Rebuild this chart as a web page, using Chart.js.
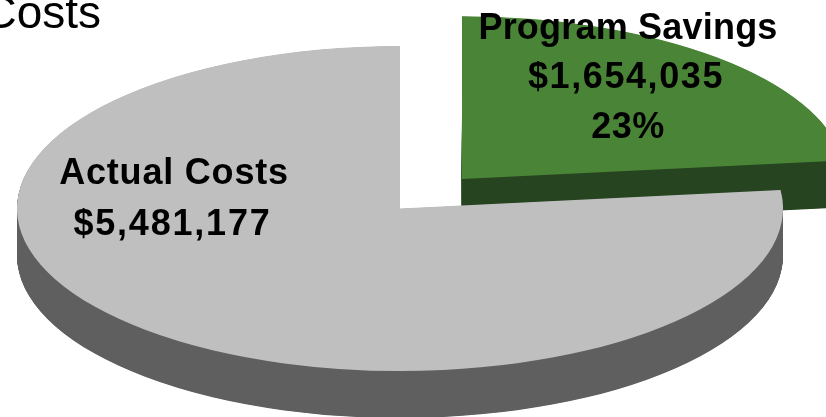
<!DOCTYPE html>
<html><head><meta charset="utf-8">
<style>html,body{margin:0;padding:0;background:#fff;overflow:hidden}#w{position:relative;width:826px;height:417px}</style>
<script src="https://cdn.jsdelivr.net/npm/chart.js@4"></script>
</head><body><div id="w"><canvas id="c" width="826" height="417"></canvas></div>
<script>
const categories = ['Program Savings', 'Actual Costs'];
const values = [1654035, 5481177];
const topColors = ['#4a8537', '#bfbfbf'];
const sideColors = ['#264420', '#5f5f5f'];
const labelLines = [
  {text:'Program Savings', x:628, y:39, ls:'0.2px'},
  {text:'$1,654,035', x:626, y:88, ls:'1.6px'},
  {text:'23%', x:628, y:138, ls:'0.5px'},
  {text:'Actual Costs', x:174, y:184, ls:'0.8px'},
  {text:'$5,481,177', x:172.5, y:235, ls:'1.8px'}
];
const pieCx = 400, pieCy = 208.5, radiusY = 162.5, radiusX = 383, depth = 47;
const scaleX = radiusX / radiusY;

function place(ctx, arc){
  ctx.translate(pieCx, pieCy); ctx.scale(scaleX, 1); ctx.translate(-arc.x, -arc.y);
}

const pie3d = {
  id:'pie3d',
  beforeDatasetDraw(chart){
    const ctx = chart.ctx, arcs = chart.getDatasetMeta(0).data;
    // Each side wall is stacked on its own layer, then flattened to one solid colour.
    arcs.forEach((arc,i)=>{
      const layer = document.createElement('canvas');
      layer.width = chart.width; layer.height = chart.height;
      const l = layer.getContext('2d');
      l.save();
      place(l, arc);
      const o = arc.options;
      arc.options = Object.create(o, {backgroundColor:{value:sideColors[i]}});
      for(let d=depth;d>=0.5;d-=0.5){
        l.save(); l.translate(0,d); arc.draw(l); l.restore();
      }
      arc.options = o;
      l.restore();
      l.globalCompositeOperation = 'source-atop';
      l.fillStyle = sideColors[i];
      l.fillRect(0,0,layer.width,layer.height);
      ctx.drawImage(layer,0,0);
    });
    ctx.save();
    place(ctx, arcs[0]);
  },
  afterDatasetDraw(chart){ chart.ctx.restore(); },
  afterDraw(chart){
    const ctx = chart.ctx;
    ctx.save();
    ctx.fillStyle='#000'; ctx.textBaseline='alphabetic'; ctx.textAlign='center';
    ctx.font='bold 36px "Liberation Sans"';
    labelLines.forEach(l=>{ctx.letterSpacing=l.ls; ctx.fillText(l.text,l.x,l.y);});
    ctx.letterSpacing='0px';
    ctx.font='46px "Liberation Sans"'; ctx.textAlign='right';
    ctx.fillText('Costs',101,28);
    ctx.restore();
  }
};

new Chart(document.getElementById('c'),{
  type:'pie',
  data:{labels:categories,datasets:[{data:values,backgroundColor:topColors,borderWidth:0,offset:[158,0],radius:radiusY}]},
  options:{responsive:false,animation:false,events:[],layout:{padding:0},clip:false,
    plugins:{legend:{display:false},tooltip:{enabled:false},title:{display:false}}},
  plugins:[pie3d]
});
</script></body></html>
